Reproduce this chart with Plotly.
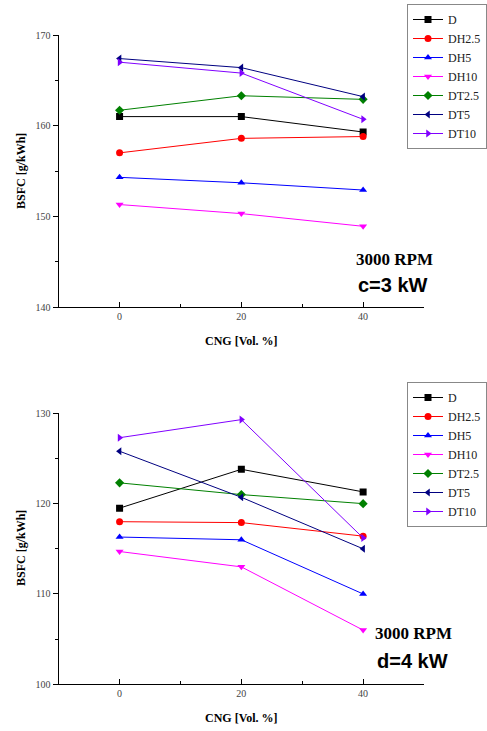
import plotly.graph_objects as go

cng = [0, 20, 40]
series_names = ["D", "DH2.5", "DH5", "DH10", "DT2.5", "DT5", "DT10"]

# 3 kW
c_D = [161.0, 161.0, 159.3]
c_DH25 = [157.0, 158.6, 158.8]
c_DH5 = [154.3, 153.7, 152.9]
c_DH10 = [151.3, 150.3, 148.9]
c_DT25 = [161.7, 163.3, 162.9]
c_DT5 = [167.4, 166.4, 163.2]
c_DT10 = [167.0, 165.8, 160.7]

# 4 kW
d_D = [119.5, 123.8, 121.3]
d_DH25 = [118.0, 117.9, 116.4]
d_DH5 = [116.3, 116.0, 110.0]
d_DH10 = [114.7, 113.0, 106.0]
d_DT25 = [122.3, 121.0, 120.0]
d_DT5 = [125.8, 120.7, 115.0]
d_DT10 = [127.3, 129.3, 116.2]

colors = ["#000000", "#ff0000", "#0000ff", "#ff00ff", "#008000", "#000080", "#8000ff"]
symbols = ["square", "circle", "triangle-up", "triangle-down", "diamond", "triangle-left", "triangle-right"]

c_vals = [c_D, c_DH25, c_DH5, c_DH10, c_DT25, c_DT5, c_DT10]
d_vals = [d_D, d_DH25, d_DH5, d_DH10, d_DT25, d_DT5, d_DT10]

SERIF = "Liberation Serif"
fig = go.Figure()
for name, vals, col, sym in zip(series_names, c_vals, colors, symbols):
    fig.add_trace(go.Scatter(x=cng, y=vals, name=name, mode="lines+markers",
                             line=dict(color=col, width=1), marker=dict(symbol=sym, size=7, color=col),
                             xaxis="x", yaxis="y", legend="legend"))
for name, vals, col, sym in zip(series_names, d_vals, colors, symbols):
    fig.add_trace(go.Scatter(x=cng, y=vals, name=name, mode="lines+markers",
                             line=dict(color=col, width=1), marker=dict(symbol=sym, size=7, color=col),
                             xaxis="x2", yaxis="y2", legend="legend2"))

W, H = 487, 731
xdom = [58.7 / W, 424 / W]
top_dom = [1 - 307 / H, 1 - 35 / H]
bot_dom = [1 - 684.3 / H, 1 - 413.3 / H]

xcommon = dict(range=[-10, 50], tickvals=[0, 20, 40], ticks="inside", ticklen=5,
               showline=True, linecolor="black", linewidth=1.2, showgrid=False, zeroline=False,
               tickfont=dict(family=SERIF, size=10, color="#444"), tickcolor="black",
               minor=dict(tickvals=[10, 30], ticks="inside", ticklen=3, tickcolor="black"))
ycommon = dict(ticks="outside", ticklen=5, showline=True, linecolor="black", linewidth=1.2,
               showgrid=False, zeroline=False, tickcolor="black",
               tickfont=dict(family=SERIF, size=10, color="#444"))

legcommon = dict(x=407 / W, xanchor="left", yanchor="top", bgcolor="white",
                 bordercolor="#888", borderwidth=1, font=dict(family=SERIF, size=12, color="#222"),
                 tracegroupgap=0, itemwidth=30)

fig.update_layout(
    width=W, height=H, margin=dict(l=0, r=0, t=0, b=0, autoexpand=False),
    plot_bgcolor="white", paper_bgcolor="white",
    xaxis=dict(domain=xdom, anchor="y", **xcommon),
    yaxis=dict(domain=top_dom, anchor="x", range=[140, 170], tickvals=[140, 150, 160, 170],
               minor=dict(tickvals=[145, 155, 165], ticks="outside", ticklen=3, tickcolor="black"), **ycommon),
    xaxis2=dict(domain=xdom, anchor="y2", **xcommon),
    yaxis2=dict(domain=bot_dom, anchor="x2", range=[100, 130], tickvals=[100, 110, 120, 130],
                minor=dict(tickvals=[105, 115, 125], ticks="outside", ticklen=3, tickcolor="black"), **ycommon),
    legend=dict(y=1 - 4 / H, **legcommon),
    legend2=dict(y=1 - 382 / H, **legcommon),
)

def ann(text, x, y, fam, size, bold=True, angle=0):
    fig.add_annotation(text=f"<b>{text}</b>" if bold else text, x=x / W, y=1 - y / H,
                       xref="paper", yref="paper", showarrow=False, textangle=angle,
                       font=dict(family=fam, size=size, color="black"), xanchor="center", yanchor="middle")

ann("BSFC [g/kWh]", 21, 171, SERIF, 12, angle=-90)
ann("BSFC [g/kWh]", 21, 548, SERIF, 12, angle=-90)
ann("CNG [Vol. %]", 241, 341, SERIF, 12)
ann("CNG [Vol. %]", 241, 718, SERIF, 12)
ann("3000 RPM", 394, 260, SERIF, 17)
ann("c=3 kW", 393, 285, "Liberation Sans", 20)
ann("3000 RPM", 413, 633, SERIF, 17)
ann("d=4 kW", 412, 661, "Liberation Sans", 20)

fig.write_html("out.html", config={"displayModeBar": False},
               post_script="document.body.style.margin='0';document.body.style.overflow='hidden';")
